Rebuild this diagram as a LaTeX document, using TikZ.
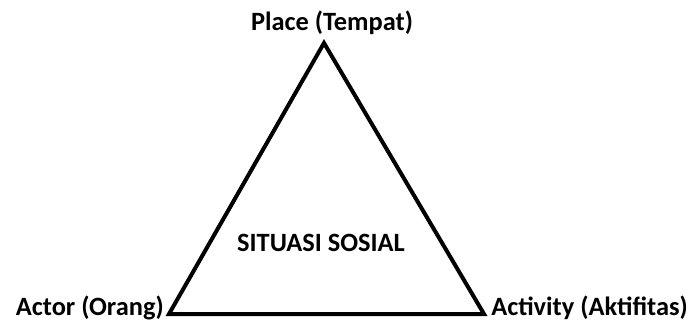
\documentclass[tikz,border=0pt]{standalone}
\usepackage{fontspec}
\setmainfont{Carlito}
\begin{document}
\begin{tikzpicture}[x=0.75pt,y=-0.75pt,
  lbl/.style={font=\fontsize{19.8pt}{22pt}\selectfont\bfseries, inner sep=0pt, anchor=base},
  tri/.style={line width=3pt, line join=miter}]
\useasboundingbox (0,0) rectangle (690,321);
\coordinate (top) at (324,43);
\coordinate (bl) at (169,314);
\coordinate (br) at (484,314);
\draw[tri] (top) -- (bl) -- (br) -- cycle;
\node[lbl] (place) at (332,31) {Place (Tempat)};
\node[lbl, anchor=base east] (actor) at (164,315) {Actor (Orang)};
\node[lbl, anchor=base west] (activity) at (491,315) {Activity (Aktifitas)};
\node[lbl] (center) at (321,252) {SITUASI SOSIAL};
\end{tikzpicture}
\end{document}
